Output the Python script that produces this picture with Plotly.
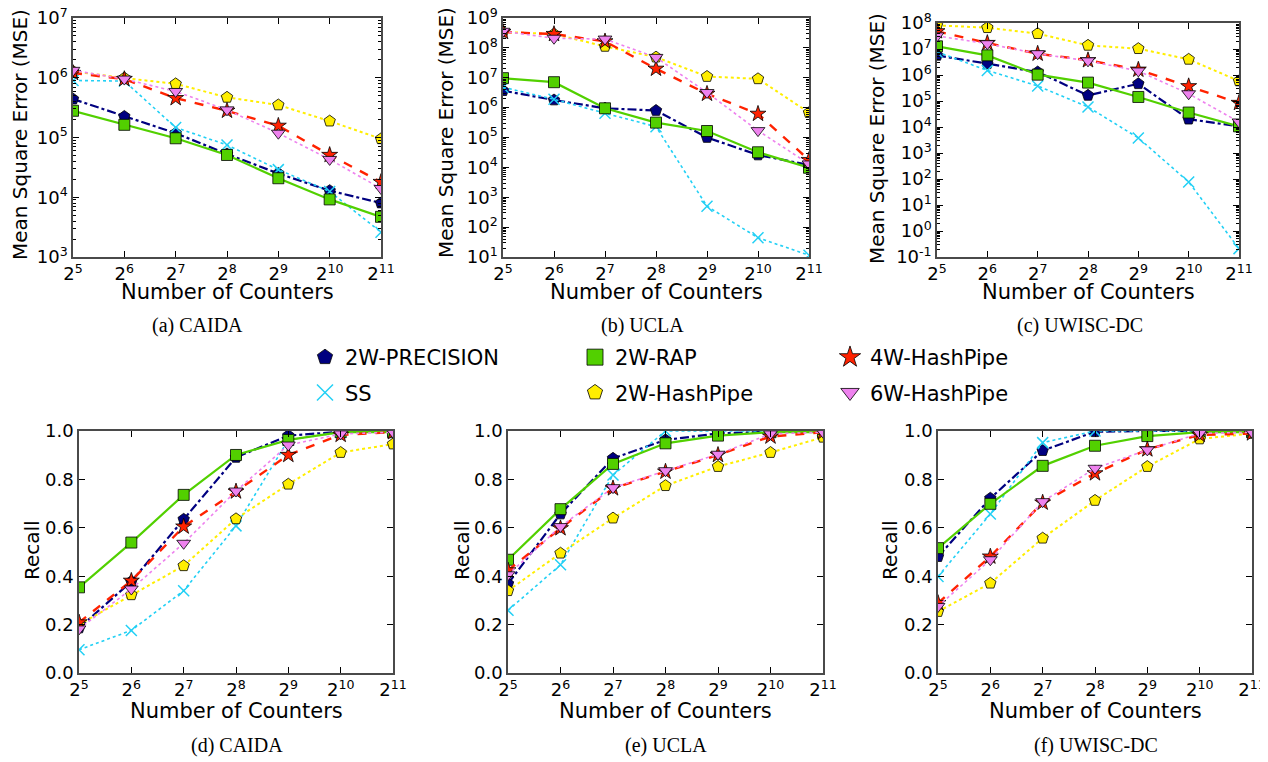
import math
import plotly.graph_objects as go

W, H = 1268, 762
OFF = 8  # page margin of the browser body

COUNTERS = [32, 64, 128, 256, 512, 1024, 2048]
X_TICK_TEXT = ["2<sup>5</sup>", "2<sup>6</sup>", "2<sup>7</sup>", "2<sup>8</sup>",
               "2<sup>9</sup>", "2<sup>10</sup>", "2<sup>11</sup>"]
SERIES = ["2W-PRECISION", "SS", "2W-RAP", "2W-HashPipe", "4W-HashPipe", "6W-HashPipe"]

# (a) CAIDA - MSE
CAIDA_MSE_PRECISION = [4.4e5, 2.25e5, 1.18e5, 5.3e4, 2.5e4, 1.29e4, 8.0e3]
CAIDA_MSE_SS = [9.0e5, 8.8e5, 1.47e5, 7.5e4, 2.9e4, 1.25e4, 2.6e3]
CAIDA_MSE_RAP = [2.8e5, 1.63e5, 9.7e4, 5.1e4, 2.08e4, 9.2e3, 4.7e3]
CAIDA_MSE_HP2 = [1.28e6, 9.9e5, 7.9e5, 4.7e5, 3.5e5, 1.88e5, 9.5e4]
CAIDA_MSE_HP4 = [1.2e6, 9.5e5, 4.56e5, 2.8e5, 1.57e5, 5.1e4, 1.8e4]
CAIDA_MSE_HP6 = [1.33e6, 9.5e5, 5.9e5, 2.9e5, 1.18e5, 4.3e4, 1.4e4]

# (b) UCLA - MSE
UCLA_MSE_PRECISION = [3.7e6, 1.8e6, 9.5e5, 8.0e5, 1.0e5, 2.6e4, 1.2e4]
UCLA_MSE_SS = [4.8e6, 1.9e6, 6.5e5, 2.3e5, 5.0e2, 44, 11.5]
UCLA_MSE_RAP = [9.7e6, 7.1e6, 9.5e5, 3.15e5, 1.65e5, 3.2e4, 9.7e3]
UCLA_MSE_HP2 = [3.4e8, 2.9e8, 1.12e8, 4.9e7, 1.1e7, 9.2e6, 6.8e5]
UCLA_MSE_HP4 = [3.4e8, 2.9e8, 1.65e8, 2.0e7, 2.9e6, 6.2e5, 1.76e4]
UCLA_MSE_HP6 = [3.6e8, 2.1e8, 1.97e8, 4.8e7, 3.2e6, 1.7e5, 1.3e4]

# (c) UWISC-DC - MSE
UWISC_MSE_PRECISION = [5.7e6, 2.7e6, 1.3e6, 1.65e5, 4.6e5, 2.0e4, 1.06e4]
UWISC_MSE_SS = [7.7e6, 1.5e6, 3.8e5, 5.9e4, 3.8e3, 77, 0.21]
UWISC_MSE_RAP = [1.27e7, 5.7e6, 1.03e6, 5.1e5, 1.43e5, 3.6e4, 1.06e4]
UWISC_MSE_HP2 = [8.1e7, 6.6e7, 3.9e7, 1.38e7, 1.03e7, 4.0e6, 5.9e5]
UWISC_MSE_HP4 = [4.8e7, 1.7e7, 6.6e6, 3.7e6, 1.6e6, 3.7e5, 8.4e4]
UWISC_MSE_HP6 = [3.2e7, 1.6e7, 6.6e6, 3.5e6, 1.43e6, 1.9e5, 1.56e4]

# (d) CAIDA - Recall
CAIDA_REC_PRECISION = [0.186, 0.378, 0.635, 0.891, 0.981, 0.997, 1.0]
CAIDA_REC_SS = [0.096, 0.176, 0.34, 0.608, 0.963, 0.995, 1.0]
CAIDA_REC_RAP = [0.354, 0.539, 0.736, 0.901, 0.963, 0.995, 0.995]
CAIDA_REC_HP2 = [0.2, 0.323, 0.443, 0.637, 0.78, 0.911, 0.946]
CAIDA_REC_HP4 = [0.209, 0.381, 0.605, 0.75, 0.901, 0.984, 0.995]
CAIDA_REC_HP6 = [0.182, 0.347, 0.536, 0.752, 0.942, 0.988, 0.995]

# (e) UCLA - Recall
UCLA_REC_PRECISION = [0.369, 0.657, 0.887, 0.963, 0.99, 0.997, 0.997]
UCLA_REC_SS = [0.259, 0.447, 0.818, 1.0, 1.0, 1.0, 1.0]
UCLA_REC_RAP = [0.468, 0.677, 0.864, 0.949, 0.981, 0.995, 0.995]
UCLA_REC_HP2 = [0.34, 0.495, 0.64, 0.774, 0.853, 0.911, 0.974]
UCLA_REC_HP4 = [0.424, 0.598, 0.763, 0.832, 0.901, 0.977, 0.995]
UCLA_REC_HP6 = [0.406, 0.605, 0.766, 0.836, 0.904, 0.988, 0.995]

# (f) UWISC-DC - Recall
UWISC_REC_PRECISION = [0.481, 0.722, 0.919, 0.997, 1.0, 1.0, 1.0]
UWISC_REC_SS = [0.399, 0.657, 0.952, 1.0, 1.0, 1.0, 1.0]
UWISC_REC_RAP = [0.516, 0.699, 0.856, 0.939, 0.979, 0.995, 0.995]
UWISC_REC_HP2 = [0.254, 0.371, 0.557, 0.713, 0.853, 0.967, 0.99]
UWISC_REC_HP4 = [0.289, 0.481, 0.704, 0.825, 0.924, 0.984, 0.99]
UWISC_REC_HP6 = [0.275, 0.468, 0.708, 0.846, 0.922, 0.99, 0.995]

MSE_TICK_EXP = {
    "a": [3, 4, 5, 6, 7],
    "b": [1, 2, 3, 4, 5, 6, 7, 8, 9],
    "c": [-1, 0, 1, 2, 3, 4, 5, 6, 7, 8],
}
RECALL_TICKS = [0.0, 0.2, 0.4, 0.6, 0.8, 1.0]
RECALL_TICK_TEXT = ["0.0", "0.2", "0.4", "0.6", "0.8", "1.0"]

CAPTIONS = ["(a) CAIDA", "(b) UCLA", "(c) UWISC-DC", "(d) CAIDA", "(e) UCLA", "(f) UWISC-DC"]

# ---------------- styles ----------------
STYLE = {
    "2W-PRECISION": dict(color="#000080", dash="dashdot", width=2.2, symbol="pentagon", size=12, legend="legend"),
    "SS": dict(color="#22d0f5", dash="dot", width=1.6, symbol="x-thin", size=11, legend="legend"),
    "2W-RAP": dict(color="#52d000", dash="solid", width=2.2, symbol="square", size=11, legend="legend2"),
    "2W-HashPipe": dict(color="#ffee00", dash="dot", width=2.0, symbol="pentagon", size=12, legend="legend2"),
    "4W-HashPipe": dict(color="#ff2200", dash="dash", width=2.4, symbol="star", size=12, legend="legend3"),
    "6W-HashPipe": dict(color="#ee82ee", dash="dot", width=1.6, symbol="triangle-down", size=12, legend="legend3"),
}

PANELS = [
    dict(key="a", data=[CAIDA_MSE_PRECISION, CAIDA_MSE_SS, CAIDA_MSE_RAP, CAIDA_MSE_HP2, CAIDA_MSE_HP4, CAIDA_MSE_HP6],
         px=(73, 381), py=(18, 257), log=True),
    dict(key="b", data=[UCLA_MSE_PRECISION, UCLA_MSE_SS, UCLA_MSE_RAP, UCLA_MSE_HP2, UCLA_MSE_HP4, UCLA_MSE_HP6],
         px=(503, 809), py=(18, 257), log=True),
    dict(key="c", data=[UWISC_MSE_PRECISION, UWISC_MSE_SS, UWISC_MSE_RAP, UWISC_MSE_HP2, UWISC_MSE_HP4, UWISC_MSE_HP6],
         px=(937, 1239), py=(23, 257), log=True),
    dict(key="d", data=[CAIDA_REC_PRECISION, CAIDA_REC_SS, CAIDA_REC_RAP, CAIDA_REC_HP2, CAIDA_REC_HP4, CAIDA_REC_HP6],
         px=(79, 393), py=(431, 673), log=False),
    dict(key="e", data=[UCLA_REC_PRECISION, UCLA_REC_SS, UCLA_REC_RAP, UCLA_REC_HP2, UCLA_REC_HP4, UCLA_REC_HP6],
         px=(508, 823), py=(431, 673), log=False),
    dict(key="f", data=[UWISC_REC_PRECISION, UWISC_REC_SS, UWISC_REC_RAP, UWISC_REC_HP2, UWISC_REC_HP4, UWISC_REC_HP6],
         px=(938, 1252), py=(431, 673), log=False),
]

FONT = "DejaVu Sans"
TICK_FONT = dict(family=FONT, size=18, color="black")
fig = go.Figure()
layout = dict(width=W, height=H, margin=dict(l=0, r=0, t=0, b=0, autoexpand=False),
              paper_bgcolor="white", plot_bgcolor="white", annotations=[])


def fx(px):
    return (px - OFF) / W


def fy(py):
    return 1 - (py - OFF) / H


def marker_for(s, size):
    if s["symbol"] == "x-thin":
        return dict(symbol="x-thin", size=size, color=s["color"],
                    line=dict(color=s["color"], width=1.5))
    return dict(symbol=s["symbol"], size=size, color=s["color"],
                line=dict(color="black", width=0.8))


def add_text(text, x, y, size, family=FONT, angle=0):
    layout["annotations"].append(dict(text=text, x=fx(x), y=fy(y), xref="paper", yref="paper",
                                      xanchor="center", yanchor="middle", showarrow=False,
                                      textangle=angle,
                                      font=dict(family=family, size=size, color="black")))


for i, p in enumerate(PANELS):
    n = "" if i == 0 else str(i + 1)
    xa, ya = "xaxis" + n, "yaxis" + n
    x0, x1 = p["px"]
    y0, y1 = p["py"]
    common = dict(showline=True, linecolor="#4a4a4a", linewidth=1.5, mirror="allticks",
                  ticks="inside", ticklen=6, tickwidth=1, tickcolor="black", automargin=False,
                  showgrid=False, zeroline=False, tickfont=TICK_FONT, ticklabeloverflow="allow")
    layout[xa] = dict(common, anchor="y" + n, domain=[fx(x0), fx(x1)], type="log",
                      range=[math.log10(COUNTERS[0]), math.log10(COUNTERS[-1])],
                      tickmode="array", tickvals=COUNTERS, ticktext=X_TICK_TEXT)
    if p["log"]:
        exps = MSE_TICK_EXP[p["key"]]
        layout[ya] = dict(common, anchor="x" + n, domain=[fy(y1), fy(y0)], type="log",
                          range=[exps[0], exps[-1]], tickmode="array",
                          tickvals=[10.0 ** e for e in exps],
                          ticktext=["10<sup>%d</sup>" % e for e in exps],
                          minor=dict(ticks="inside", ticklen=3, tickcolor="black", dtick="D1"))
    else:
        layout[ya] = dict(common, anchor="x" + n, domain=[fy(y1), fy(y0)],
                          range=[0, 1], tickmode="array", tickvals=RECALL_TICKS,
                          ticktext=RECALL_TICK_TEXT)
    for name, vals in zip(SERIES, p["data"]):
        s = STYLE[name]
        fig.add_trace(go.Scatter(
            x=COUNTERS, y=vals, mode="lines+markers", name=name,
            line=dict(color=s["color"], dash=s["dash"], width=s["width"]),
            marker=marker_for(s, s["size"]), xaxis="x" + n, yaxis="y" + n,
            legendgroup=name, showlegend=False,
        ))
    cx = (x0 + x1) / 2
    add_text("Number of Counters", cx, 292 if p["log"] else 711, 21)

# legend entries (no data of their own; they only carry the legend symbol)
for name in SERIES:
    s = STYLE[name]
    fig.add_trace(go.Scatter(
        x=[None], y=[None], mode="markers", name=name,
        marker=marker_for(s, 16), legendgroup=name, showlegend=True, legend=s["legend"],
    ))

YTITLE_POS = [(20, 135, "Mean Square Error (MSE)"), (446, 133, "Mean Square Error (MSE)"),
              (877, 139, "Mean Square Error (MSE)"), (32, 550, "Recall"), (462, 550, "Recall"),
              (890, 550, "Recall")]
for (x, y, t) in YTITLE_POS:
    add_text(t, x, y, 20, angle=-90)

CAPTION_POS = [(197, 326), (642, 326), (1080, 326), (237, 745), (666, 745), (1096, 745)]
for (x, y), t in zip(CAPTION_POS, CAPTIONS):
    add_text(t, x, y, 20, family="Liberation Serif")

leg_common = dict(xanchor="left", yanchor="top", orientation="v", bgcolor="rgba(0,0,0,0)",
                  font=dict(family=FONT, size=21, color="black"), itemwidth=30,
                  tracegroupgap=5, itemsizing="trace")
layout["legend"] = dict(leg_common, x=fx(305), y=fy(337))
layout["legend2"] = dict(leg_common, x=fx(575), y=fy(337))
layout["legend3"] = dict(leg_common, x=fx(830), y=fy(337))

fig.update_layout(**layout)
fig.write_html("out.html")
